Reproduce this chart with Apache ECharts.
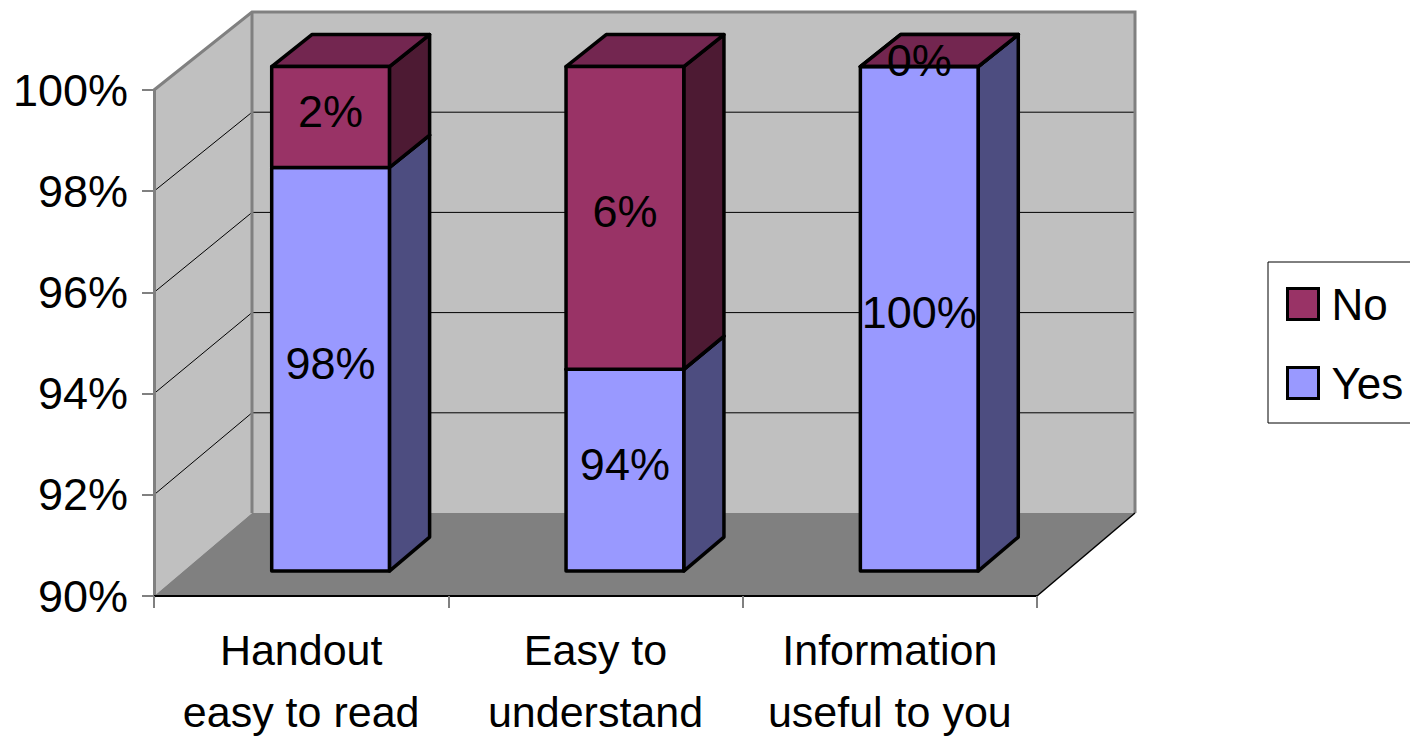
<!DOCTYPE html>
<html>
<head>
<meta charset="utf-8">
<script src="https://cdn.jsdelivr.net/npm/echarts@6/dist/echarts.min.js"></script>
<style>
html,body{margin:0;padding:0;background:#fff;}
#chart{width:1410px;height:740px;}
</style>
</head>
<body>
<div id="chart"></div>
<script>
const categories = ['Handout\neasy to read', 'Easy to\nunderstand', 'Information\nuseful to you'];
const yesValues = [98, 94, 100];
const noValues = [2, 6, 0];
const yAxisMin = 90;
const yAxisMax = 100;
const yAxisStep = 2;
const yTickValues = [90, 92, 94, 96, 98, 100];

const FONT = "'Liberation Sans', Arial, sans-serif";

function proj(cs, x, y, d) {
  const t = (y - cs.y) / cs.height;
  return [x + 98 * d, y - d * (78 + 5 * t)];
}

function wallsRender(params, api) {
  const cs = params.coordSys;
  const L = cs.x, R = cs.x + cs.width, T = cs.y, B = cs.y + cs.height;
  const children = [];
  children.push({type:'polygon', shape:{points:[proj(cs,L,T,0),proj(cs,L,T,1),proj(cs,L,B,1),proj(cs,L,B,0)]}, style:{fill:'#C0C0C0'}});
  children.push({type:'polygon', shape:{points:[proj(cs,L,T,1),proj(cs,R,T,1),proj(cs,R,B,1),proj(cs,L,B,1)]}, style:{fill:'#C0C0C0'}});
  children.push({type:'polygon', shape:{points:[proj(cs,L,B,0),proj(cs,L,B,1),proj(cs,R,B,1),proj(cs,R,B,0)]}, style:{fill:'#808080'}});
  yTickValues.forEach(function(v){
    if (v === yAxisMin || v === yAxisMax) return;
    const y = api.coord([0, v])[1];
    const a = proj(cs,L,y,0), b = proj(cs,L,y,1), c = proj(cs,R,y,1);
    children.push({type:'polyline', shape:{points:[a,b,c]}, style:{stroke:'#000', lineWidth:1, fill:null}});
  });
  children.push({type:'polyline', shape:{points:[proj(cs,L,T,0),proj(cs,L,T,1),proj(cs,R,T,1),proj(cs,R,B,1)]}, style:{stroke:'#808080', lineWidth:3, fill:null}});
  children.push({type:'line', shape:{x1:proj(cs,L,T,1)[0], y1:proj(cs,L,T,1)[1], x2:proj(cs,L,B,1)[0], y2:proj(cs,L,B,1)[1]}, style:{stroke:'#808080', lineWidth:3}});
  children.push({type:'line', shape:{x1:proj(cs,R,B,0)[0], y1:proj(cs,R,B,0)[1], x2:proj(cs,R,B,1)[0], y2:proj(cs,R,B,1)[1]}, style:{stroke:'#000', lineWidth:1.5}});
  return {type:'group', children:children};
}

function barRender(front, side, top) {
  return function(params, api) {
    const cs = params.coordSys;
    const i = api.value(0);
    const p0 = api.coord([i, api.value(1)]);
    const p1 = api.coord([i, api.value(2)]);
    const band = api.size([1, 0])[0];
    const hw = band * 0.2;
    const x0 = p0[0] - hw, x1 = p0[0] + hw;
    const yb = p0[1], yt = p1[1];
    const D0 = 0.3, D1 = 0.71;
    const fbl = proj(cs,x0,yb,D0), fbr = proj(cs,x1,yb,D0), ftr = proj(cs,x1,yt,D0), ftl = proj(cs,x0,yt,D0);
    const bbr = proj(cs,x1,yb,D1), btr = proj(cs,x1,yt,D1), btl = proj(cs,x0,yt,D1);
    const st = {stroke:'#000', lineWidth:3.5, lineJoin:'round'};
    const children = [
      {type:'polygon', shape:{points:[fbr,bbr,btr,ftr]}, style:Object.assign({fill:side}, st)},
      {type:'polygon', shape:{points:[ftl,ftr,btr,btl]}, style:Object.assign({fill:top}, st)},
      {type:'polygon', shape:{points:[fbl,fbr,ftr,ftl]}, style:Object.assign({fill:front}, st)},
      {type:'text', x:(fbl[0]+fbr[0])/2, y:(fbl[1]+ftl[1])/2 - 6,
        style:{text: api.value(3) + '%', fill:'#000', font:'45px ' + FONT, align:'center', verticalAlign:'middle'}}
    ];
    return {type:'group', children:children};
  };
}

const yesData = categories.map(function(c, i){ return [i, yAxisMin, yesValues[i], yesValues[i]]; });
const noData = categories.map(function(c, i){ return [i, yesValues[i], yesValues[i] + noValues[i], noValues[i]]; });

const chart = echarts.init(document.getElementById('chart'), null, {renderer:'svg'});
chart.setOption({
  animation:false,
  backgroundColor:'#fff',
  textStyle:{fontFamily:FONT},
  grid:{left:154, right:373, top:90, bottom:144, containLabel:false, outerBoundsMode:'none'},
  legend:{
    orient:'vertical', left:1268, top:262,
    borderColor:'#000', borderWidth:1, padding:[20,40,18,18],
    itemWidth:31, itemHeight:31, itemGap:35,
    textStyle:{fontSize:44, color:'#000', fontFamily:FONT, padding:[0,0,0,8]},
    data:[
      {name:'No', icon:'rect', itemStyle:{color:'#993366', borderColor:'#000', borderWidth:3}},
      {name:'Yes', icon:'rect', itemStyle:{color:'#9999FF', borderColor:'#000', borderWidth:3}}
    ]
  },
  xAxis:{
    type:'category', data:categories, boundaryGap:true, z:10,
    axisLine:{show:true, lineStyle:{color:'#000', width:2}},
    axisTick:{show:true, length:12, lineStyle:{color:'#808080', width:2}},
    axisLabel:{interval:0, fontSize:43, lineHeight:62, margin:23, color:'#000', fontFamily:FONT},
    splitLine:{show:false}
  },
  yAxis:{
    type:'value', min:yAxisMin, max:yAxisMax, interval:yAxisStep, z:10,
    axisLine:{show:true, lineStyle:{color:'#808080', width:3}},
    axisTick:{show:true, length:12, lineStyle:{color:'#808080', width:2}},
    axisLabel:{formatter:'{value}%', fontSize:45, margin:26, color:'#000', fontFamily:FONT, padding:[0,0,14,0]},
    splitLine:{show:false}
  },
  series:[
    {type:'custom', name:'walls', renderItem:wallsRender, data:[[0, yAxisMin]], z:1, silent:true},
    {type:'custom', name:'Yes', renderItem:barRender('#9999FF', '#4D4D80', '#7373BF'), data:yesData, z:2, itemStyle:{color:'#9999FF'}},
    {type:'custom', name:'No', renderItem:barRender('#993366', '#4D1A33', '#732650'), data:noData, z:3, itemStyle:{color:'#993366'}}
  ]
});
</script>
</body>
</html>
